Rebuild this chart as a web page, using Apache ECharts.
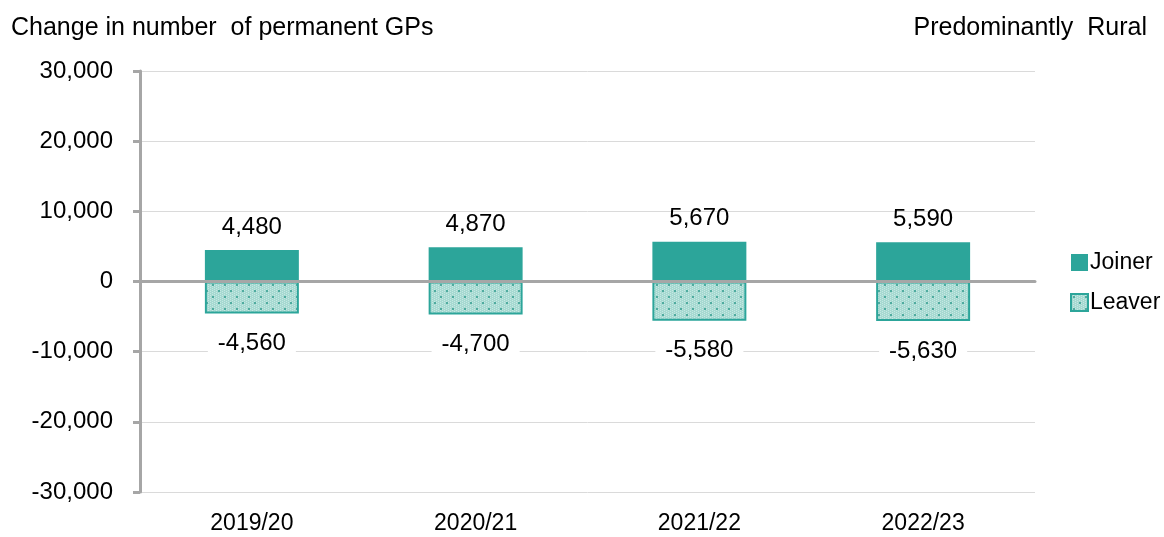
<!DOCTYPE html>
<html>
<head>
<meta charset="utf-8">
<script src="https://cdn.jsdelivr.net/npm/echarts@6/dist/echarts.min.js"></script>
<style>
  html, body { margin: 0; padding: 0; background: #fff; }
  #chart { width: 1164px; height: 537px; }
</style>
</head>
<body>
<div id="chart"></div>
<script>
var years = ['2019/20', '2020/21', '2021/22', '2022/23'];
var joiners = [4480, 4870, 5670, 5590];
var leavers = [-4560, -4700, -5580, -5630];
var yTicks = { min: -30000, max: 30000, step: 10000 };

var teal = '#2ca59a';

// dotted fill for the leaver bars
function makePattern() {
  var c = document.createElement('canvas');
  c.width = 12; c.height = 12;
  var ctx = c.getContext('2d');
  ctx.fillStyle = '#a6d9d1';
  ctx.fillRect(0, 0, 12, 12);
  ctx.fillStyle = '#c6e8e3';
  for (var i = 0; i < 12; i += 2) {
    for (var j = (i / 2) % 2; j < 12; j += 2) ctx.fillRect(i, j, 1, 1);
  }
  ctx.fillStyle = '#4fab9f';
  ctx.fillRect(2, 2, 2, 2);
  ctx.fillRect(8, 8, 2, 2);
  return c;
}

function fmt(v) {
  return v.toLocaleString('en-US');
}

var chart = echarts.init(document.getElementById('chart'));
var font = 'Liberation Sans, Arial, sans-serif';

chart.setOption({
  backgroundColor: '#ffffff',
  animation: false,
  textStyle: { fontFamily: font },
  title: [
    { text: 'Change in number  of permanent GPs', left: 6, top: 11,
      textStyle: { fontSize: 25, fontWeight: 'normal', color: '#000', fontFamily: font } },
    { text: 'Predominantly  Rural', right: 12, top: 11,
      textStyle: { fontSize: 25, fontWeight: 'normal', color: '#000', fontFamily: font } }
  ],
  legend: {
    orient: 'vertical',
    left: 1065,
    top: 246,
    icon: 'rect',
    itemWidth: 17,
    itemHeight: 17,
    itemGap: 17,
    textStyle: { fontSize: 23, color: '#000', padding: [0, 0, 0, -3] },
    data: ['Joiner', 'Leaver']
  },
  grid: { left: 140, right: 129, top: 71, bottom: 45 },
  xAxis: [
    {
      type: 'category',
      data: years,
      axisLine: { show: false, onZero: false },
      axisTick: { show: false },
      axisLabel: { fontSize: 23, color: '#000', margin: 20 }
    },
    {
      type: 'category',
      data: years,
      position: 'bottom',
      axisLine: { show: true, onZero: true, lineStyle: { color: '#a6a6a6', width: 3 } },
      axisTick: { show: false },
      axisLabel: { show: false },
      z: 10
    }
  ],
  yAxis: {
    type: 'value',
    min: yTicks.min,
    max: yTicks.max,
    interval: yTicks.step,
    axisLine: { show: true, lineStyle: { color: '#a6a6a6', width: 3 } },
    axisTick: { show: true, inside: false, length: 7, lineStyle: { color: '#a6a6a6', width: 3 } },
    splitLine: { show: true, lineStyle: { color: '#dadada', width: 1 } },
    axisLabel: { fontSize: 24, color: '#000', margin: 27, formatter: fmt }
  },
  series: [
    {
      name: 'Joiner',
      type: 'bar',
      stack: 'total',
      barWidth: '42%',
      data: joiners,
      itemStyle: { color: teal },
      label: {
        show: true, position: 'top', distance: 11, fontSize: 24, color: '#000',
        formatter: function (p) { return fmt(p.value); }
      }
    },
    {
      name: 'Leaver',
      type: 'bar',
      stack: 'total',
      barWidth: '42%',
      data: leavers,
      itemStyle: {
        color: { image: makePattern(), repeat: 'repeat' },
        borderColor: teal,
        borderWidth: 2
      },
      label: {
        show: true, position: 'bottom', distance: 15, fontSize: 24, color: '#000',
        backgroundColor: '#fff', padding: [3, 10, 3, 10],
        formatter: function (p) { return fmt(p.value); }
      }
    }
  ]
});
</script>
</body>
</html>
